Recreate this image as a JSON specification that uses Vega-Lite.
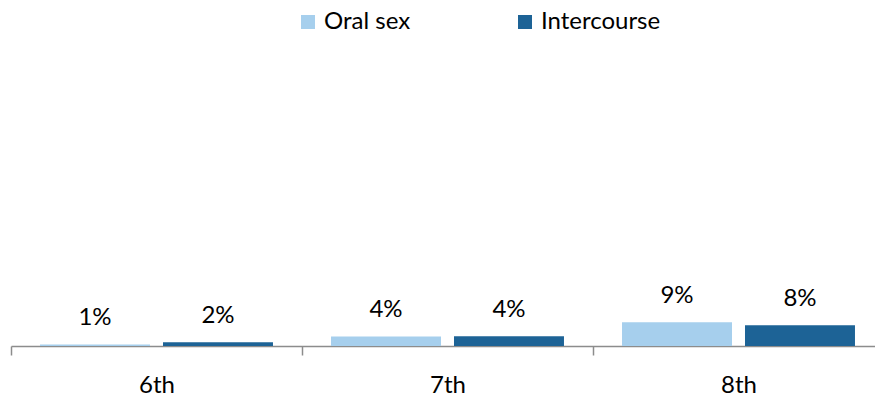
{
  "$schema": "https://vega.github.io/schema/vega-lite/v6.json",
  "autosize": {"type": "none"},
  "padding": {"left": 11, "top": 89, "right": 0, "bottom": 54},
  "width": 864,
  "height": 257,
  "config": {
    "view": {"stroke": null},
    "font": "Lato",
    "text": {"font": "Lato"}
  },
  "data": {
    "values": [
      {"grade": "6th", "series": "Oral sex", "value": 0.6, "label": "1%"},
      {"grade": "6th", "series": "Intercourse", "value": 1.5, "label": "2%"},
      {"grade": "7th", "series": "Oral sex", "value": 3.7, "label": "4%"},
      {"grade": "7th", "series": "Intercourse", "value": 3.8, "label": "4%"},
      {"grade": "8th", "series": "Oral sex", "value": 9.2, "label": "9%"},
      {"grade": "8th", "series": "Intercourse", "value": 8.1, "label": "8%"}
    ]
  },
  "encoding": {
    "x": {
      "field": "grade",
      "type": "nominal",
      "sort": ["6th", "7th", "8th"],
      "scale": {"range": [0, 873], "paddingInner": 0, "paddingOuter": 0},
      "axis": {
        "title": null,
        "labelAngle": 0,
        "labelFont": "Lato",
        "labelFontSize": 24,
        "labelColor": "#000000",
        "labelPadding": 18,
        "tickBand": "extent",
        "tickSize": 9,
        "tickColor": "#8c8c8c",
        "tickWidth": 1.5,
        "domainColor": "#8c8c8c",
        "domainWidth": 1.5,
        "grid": false
      }
    },
    "xOffset": {
      "field": "series",
      "type": "nominal",
      "sort": ["Oral sex", "Intercourse"],
      "scale": {"paddingInner": 0.1057, "paddingOuter": 0.236}
    },
    "y": {
      "field": "value",
      "type": "quantitative",
      "scale": {"domain": [0, 100]},
      "axis": null
    }
  },
  "layer": [
    {
      "mark": {"type": "bar"},
      "encoding": {
        "color": {
          "field": "series",
          "type": "nominal",
          "sort": ["Oral sex", "Intercourse"],
          "scale": {"domain": ["Oral sex", "Intercourse"], "range": ["#a6cfed", "#1d6396"]},
          "legend": {
            "title": null,
            "orient": "none",
            "direction": "horizontal",
            "legendX": 285,
            "legendY": -79,
            "symbolType": "square",
            "symbolSize": 196,
            "symbolStrokeWidth": 0,
            "labelFont": "Lato",
            "labelFontSize": 24,
            "labelColor": "#000000",
            "labelOffset": 4,
            "columnPadding": 102
          }
        }
      }
    },
    {
      "mark": {"type": "text", "baseline": "alphabetic", "dy": -19, "fontSize": 24, "font": "Lato", "color": "#000000"},
      "encoding": {
        "text": {"field": "label"}
      }
    }
  ]
}
